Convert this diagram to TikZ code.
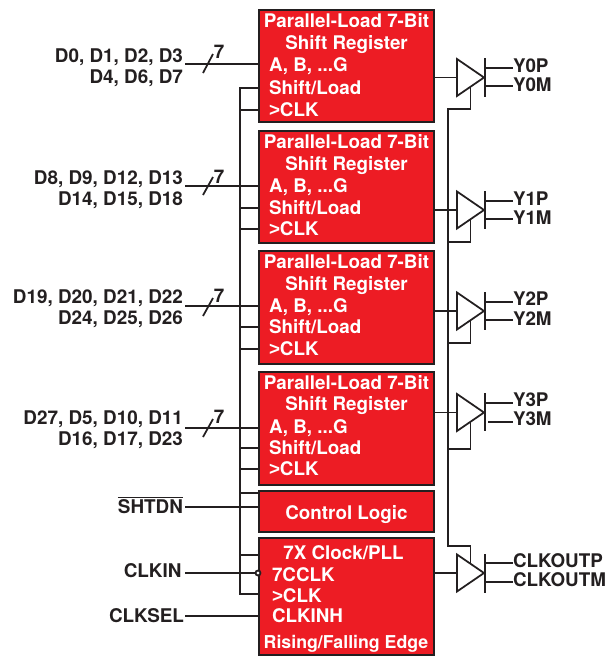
\documentclass[tikz,border=0pt]{standalone}
\usepackage{fontspec}
\setmainfont{TeX Gyre Heros}
\newfontfamily\gtfont{Liberation Sans}
\usepackage{xcolor}
\usepackage{tikz}
\usetikzlibrary{positioning,shapes.geometric}
\definecolor{blockred}{HTML}{ED1C24}
\definecolor{inkdark}{HTML}{231F20}

\begin{document}
\begin{tikzpicture}[x=0.02cm, y=-0.02cm, line width=1pt, draw=inkdark,
    every node/.style={font=\fontsize{10.7}{12.2}\selectfont\bfseries, outer sep=0pt},
    regbox/.style={draw=inkdark, line width=1.1pt, fill=blockred, minimum width=3.5cm, minimum height=2.25cm, inner sep=0pt},
    inlabel/.style={text=white, anchor=west, inner sep=0pt, text height=0.26cm, text depth=0pt},
    headlabel/.style={text=white, inner sep=0pt, text height=0.26cm, text depth=0pt},
    siglabel/.style={text=inkdark, anchor=east, align=right, inner sep=0.04cm, font=\fontsize{10.75}{12.2}\selectfont\bfseries},
    outlabel/.style={text=inkdark, anchor=west, inner sep=0pt, text height=0.26cm, text depth=0pt},
    buffer/.style={draw=inkdark, fill=white, isosceles triangle, isosceles triangle stretches, minimum width=0.74cm, minimum height=0.54cm, inner sep=0pt, anchor=lower side}]
    \useasboundingbox (0,0) rectangle (608,656);

    % red blocks
    \node[regbox] (reg0) at (346.5,66) {};
    \node[regbox, below=0.166cm of reg0] (reg1) {};
    \node[regbox, below=0.166cm of reg1] (reg2) {};
    \node[regbox, below=0.166cm of reg2] (reg3) {};
    \node[regbox, minimum height=0.82cm] (ctl) at (346.5,511.5) {};
    \node[regbox, minimum height=2.34cm] (pll) at (346.5,596.5) {};

    % register texts
    \node[headlabel] (t0a) at (346.5,21) {Parallel-Load 7-Bit};
    \node[headlabel] (t0b) at (346.5,43) {Shift Register};
    \node[inlabel] (ab0) at (269,65) {A, B, ...G};
    \node[inlabel] (sl0) at (269,88) {Shift/Load};
    \node[inlabel] (ck0) at (269,110) {{\gtfont >}CLK};

    \node[headlabel] (t1a) at (346.5,142) {Parallel-Load 7-Bit};
    \node[headlabel] (t1b) at (346.5,164) {Shift Register};
    \node[inlabel] (ab1) at (269,186) {A, B, ...G};
    \node[inlabel] (sl1) at (269,208) {Shift/Load};
    \node[inlabel] (ck1) at (269,229) {{\gtfont >}CLK};

    \node[headlabel] (t2a) at (346.5,262) {Parallel-Load 7-Bit};
    \node[headlabel] (t2b) at (346.5,284) {Shift Register};
    \node[inlabel] (ab2) at (269,306) {A, B, ...G};
    \node[inlabel] (sl2) at (269,327) {Shift/Load};
    \node[inlabel] (ck2) at (269,349) {{\gtfont >}CLK};

    \node[headlabel] (t3a) at (346.5,383) {Parallel-Load 7-Bit};
    \node[headlabel] (t3b) at (346.5,404) {Shift Register};
    \node[inlabel] (ab3) at (269,427) {A, B, ...G};
    \node[inlabel] (sl3) at (269,448) {Shift/Load};
    \node[inlabel] (ck3) at (269,469) {{\gtfont >}CLK};

    \node[headlabel] (ctltxt) at (346.5,513) {Control Logic};

    % clock block texts
    \node[headlabel] (pa) at (343.5,553) {7X Clock/PLL};
    \node[inlabel] (pb) at (272,575) {7CCLK};
    \node[inlabel] (pc) at (272,596) {{\gtfont >}CLK};
    \node[inlabel] (pd) at (272,616) {CLKINH};
    \node[headlabel, font=\fontsize{10.1}{12.2}\selectfont\bfseries] (pe) at (346,642) {Rising/Falling Edge};

    % left signals
    \node[siglabel] (d0) at (185,67.5) {D0, D1, D2, D3\\D4, D6, D7};
    \node[siglabel] (d1) at (185,189.5) {D8, D9, D12, D13\\D14, D15, D18};
    \node[siglabel] (d2) at (185,309) {D19, D20, D21, D22\\D24, D25, D26};
    \node[siglabel] (d3) at (185,430) {D27, D5, D10, D11\\D16, D17, D23};
    \node[siglabel] (shtdn) at (185,505) {$\overline{\mbox{SHTDN}}$};
    \node[siglabel] (clkin) at (183.5,571) {CLKIN};
    \node[siglabel] (clksel) at (186,616) {CLKSEL};

    \node[text=inkdark, inner sep=0pt] (n0) at (219,52) {7};
    \node[text=inkdark, inner sep=0pt] (n1) at (219,177) {7};
    \node[text=inkdark, inner sep=0pt] (n2) at (219,296) {7};
    \node[text=inkdark, inner sep=0pt] (n3) at (219,417) {7};

    \coordinate (bus0) at (185,64);
    \coordinate (bus1) at (185,186);
    \coordinate (bus2) at (185,306);
    \coordinate (bus3) at (185,428);
    \draw (bus0) -- (bus0 -| reg0.west);
    \draw (bus1) -- (bus1 -| reg1.west);
    \draw (bus2) -- (bus2 -| reg2.west);
    \draw (bus3) -- (bus3 -| reg3.west);
    \draw (203,73) -- (213,54);
    \draw (203,195) -- (213,177);
    \draw (203,316) -- (213,298);
    \draw (203,437) -- (213,419);

    % shared control line
    \coordinate (ctltop) at (240,88);
    \coordinate (ctlbot) at (240,594);
    \coordinate (ctlin) at (240,493);
    \coordinate (pllin) at (240,555);
    \coordinate (shtdnin) at (185,507);
    \coordinate (clkinin) at (185,573);
    \coordinate (clksin) at (185,616);
    \draw (sl0.west -| reg0.west) -- (ctltop) -- (ctlbot) -- (ctlbot -| pll.west);
    \draw (ck0.west -| ctltop) -- (ck0.west -| reg0.west);
    \draw (sl1.west -| ctltop) -- (sl1.west -| reg1.west);
    \draw (ck1.west -| ctltop) -- (ck1.west -| reg1.west);
    \draw (sl2.west -| ctltop) -- (sl2.west -| reg2.west);
    \draw (ck2.west -| ctltop) -- (ck2.west -| reg2.west);
    \draw (sl3.west -| ctltop) -- (sl3.west -| reg3.west);
    \draw (ck3.west -| ctltop) -- (ck3.west -| reg3.west);
    \draw (ctlin) -- (ctlin -| ctl.west);
    \draw (pllin) -- (pllin -| pll.west);

    \node[circle, draw=inkdark, fill=white, inner sep=0pt, minimum size=0.1cm] (bub) at (258,573) {};
    \draw (shtdnin) -- (shtdnin -| ctl.west);
    \draw (clkinin) -- (bub);
    \draw (clksin) -- (clksin -| pll.west);

    % output buffers
    \node[buffer] (buf0) at (457,77.5) {};
    \node[buffer] (buf1) at (457,210) {};
    \node[buffer] (buf2) at (457,311) {};
    \node[buffer] (buf3) at (457,412.5) {};
    \node[buffer] (buf4) at (457,573) {};

    \draw (buf0.lower side -| reg0.east) -- (buf0.lower side);
    \draw (buf1.lower side -| reg1.east) -- (buf1.lower side);
    \draw (buf2.lower side -| reg2.east) -- (buf2.lower side);
    \draw (buf3.lower side -| reg3.east) -- (buf3.lower side);
    \draw (buf4.lower side -| pll.east) -- (buf4.lower side);

    % enable line
    \coordinate (en0) at (448,109);
    \coordinate (en1) at (448,242);
    \coordinate (en2) at (448,343);
    \coordinate (en3) at (448,449);
    \coordinate (en4) at (448,546);
    \draw (buf0.right side) |- (en0) -- (en4) -| (buf4.left side);
    \draw (buf1.right side) |- (en1);
    \draw (buf2.right side) |- (en2);
    \draw (buf3.right side) |- (en3);

    % outputs
    \node[outlabel] (y0p) at (513,66) {Y0P};
    \node[outlabel] (y0m) at (513,85) {Y0M};
    \node[outlabel] (y1p) at (513,199) {Y1P};
    \node[outlabel] (y1m) at (513,218) {Y1M};
    \node[outlabel] (y2p) at (513,299) {Y2P};
    \node[outlabel] (y2m) at (513,319) {Y2M};
    \node[outlabel] (y3p) at (513,400) {Y3P};
    \node[outlabel] (y3m) at (513,419) {Y3M};
    \node[outlabel] (cp) at (513,561) {CLKOUTP};
    \node[outlabel] (cm) at (513,580) {CLKOUTM};

    \draw (485,58) -- (485,97);
    \draw (485,191) -- (485,229);
    \draw (485,292) -- (485,330);
    \draw (485,393) -- (485,431);
    \draw (485,554) -- (485,593);

    \coordinate (o0p) at (485,68);
    \coordinate (o0m) at (485,86);
    \coordinate (o1p) at (485,201);
    \coordinate (o1m) at (485,219);
    \coordinate (o2p) at (485,302);
    \coordinate (o2m) at (485,320);
    \coordinate (o3p) at (485,403);
    \coordinate (o3m) at (488,422);
    \coordinate (o4p) at (485,563);
    \coordinate (o4m) at (485,582);
    \draw (o0p) -- (o0p -| y0p.west);
    \draw (o0m) -- (o0m -| y0m.west);
    \draw (o1p) -- (o1p -| y1p.west);
    \draw (o1m) -- (o1m -| y1m.west);
    \draw (o2p) -- (o2p -| y2p.west);
    \draw (o2m) -- (o2m -| y2m.west);
    \draw (o3p) -- (o3p -| y3p.west);
    \draw (o3m) -- (o3m -| y3m.west);
    \draw (o4p) -- (o4p -| cp.west);
    \draw (o4m) -- (o4m -| cm.west);
\end{tikzpicture}
\end{document}
